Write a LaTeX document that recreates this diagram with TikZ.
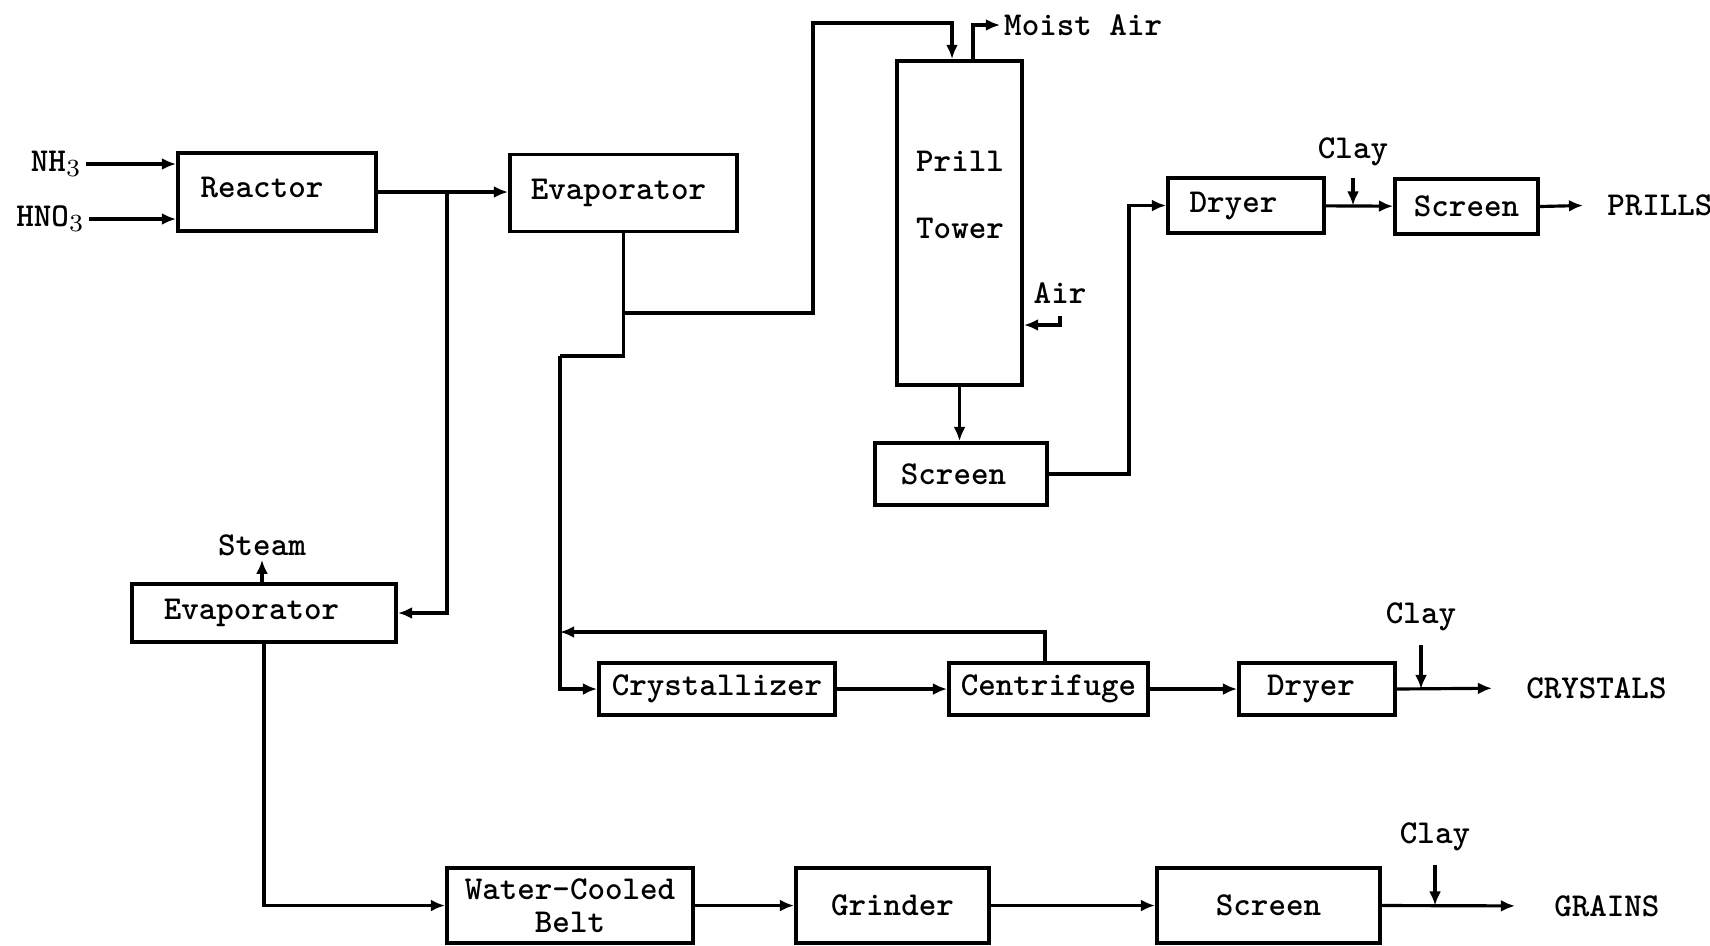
\documentclass[tikz,border=0pt]{standalone}
\usepackage{tikz}
\usetikzlibrary{arrows.meta,positioning,calc}

\begin{document}
\begin{tikzpicture}[x=0.01cm,y=-0.01cm,
  unit/.style 2 args={draw,line width=1.1pt,minimum width=#1cm,minimum height=#2cm,
                      inner sep=0pt,align=center,font=\fontsize{9.5}{11}\selectfont\ttfamily\bfseries},
  lbl/.style={inner sep=1pt,font=\fontsize{9.5}{11}\selectfont\ttfamily\bfseries},
  pipe/.style={line width=0.9pt},
  arrow/.style={pipe,-{Latex[length=4pt,width=3.4pt]}}
]
\useasboundingbox (0,0) rectangle (1710,945);
% prilling line
\node[unit={1.98}{0.78}] (reactor) at (277,192) {\raisebox{2.5pt}{Reactor}\hspace*{0.3cm}};
\node[unit={2.27}{0.77}] (evapA) at (623.5,193) {Evaporator\hspace*{0.1cm}};
\node[unit={1.25}{3.24}] (tower) at (959.5,223) {};
\node[lbl,align=center] (towertxt) at (960,195) {Prill\\[8pt]Tower};
\node[unit={1.72}{0.62}] (screenA) at (961,474) {Screen\hspace*{0.15cm}};
\node[unit={1.56}{0.55}] (dryerA) at (1246,205.5) {Dryer\hspace*{0.25cm}};
\node[unit={1.43}{0.55}] (screenB) at (1466.5,206.5) {Screen};
% crystal and grain lines
\node[unit={2.64}{0.58}] (evapB) at (264,613) {Evaporator\hspace*{0.25cm}};
\node[unit={2.36}{0.52}] (cryst) at (717,689) {Crystallizer};
\node[unit={1.99}{0.52}] (centri) at (1048.5,689) {Centrifuge};
\node[unit={1.56}{0.52}] (dryerB) at (1317,689) {Dryer\hspace*{0.12cm}};
\node[unit={2.46}{0.75}] (belt) at (570,905.5) {Water-Cooled\\[-1.5pt]Belt};
\node[unit={1.93}{0.75}] (grinder) at (892.5,905.5) {Grinder};
\node[unit={2.23}{0.75}] (screenC) at (1268.5,905.5) {Screen};
% stream labels
\node[lbl,anchor=east] (nh3) at (86,164) {NH$_3$};
\node[lbl,anchor=east] (hno3) at (89,219) {HNO$_3$};
\node[lbl] (steam) at (262,545) {Steam};
\node[lbl,anchor=west] (moist) at (1000,25) {Moist Air};
\node[lbl] (air) at (1060,293) {Air};
\node[lbl] (clayA) at (1353,152) {Clay};
\node[lbl,anchor=west] (prills) at (1603,205) {PRILLS};
\node[lbl] (clayB) at (1421,617) {Clay};
\node[lbl,anchor=west] (crystals) at (1522,688) {CRYSTALS};
\node[lbl] (clayC) at (1435,837) {Clay};
\node[lbl,anchor=west] (grains) at (1550,906) {GRAINS};
\coordinate (split) at (447,192);
\coordinate (drop) at (560,356);

\draw[arrow] (nh3.east) -- (reactor.west |- nh3.east);
\draw[arrow] (hno3.east) -- (reactor.west |- hno3.east);
\draw[arrow] (reactor.east) -- (evapA.west |- reactor.east);
\draw[arrow] (split) |- (evapB.east);
\draw[arrow] (evapB.north -| steam.south) -- (steam.south);
\draw[arrow] (evapB.south) |- (belt.west);
\draw[arrow] (belt) -- (grinder);
\draw[arrow] (grinder) -- (screenC);
\draw[arrow,shorten >=0.35cm] (screenC.east) -- (grains.west);
\draw[arrow,shorten <=0.1cm] (clayC.south) -- (clayC.south |- screenC.east);
% to the prill tower
\draw[arrow] (evapA.south |- 0,313) -| (813,23) -| ([xshift=-0.075cm]tower.north);
\draw[arrow] ([xshift=0.135cm]tower.north) |- (moist.west);
\draw[arrow,shorten <=0.08cm] (air.south) |- (tower.east |- 0,325);
\draw[arrow] (tower.south) -- (tower.south |- screenA.north);
\draw[arrow] (screenA.east) -- ++(80,0) |- (dryerA.west);
\draw[arrow] (dryerA) -- (screenB);
\draw[arrow,shorten <=0.08cm] (clayA.south) -- (clayA.south |- dryerA.east);
\draw[arrow,shorten >=0.2cm] (screenB.east) -- (prills.west);
% to the crystallizer
\draw[pipe] (evapA.south) |- (drop);
\draw[arrow] (drop) |- (cryst.west);
\draw[arrow] (cryst) -- (centri);
\draw[arrow] ([xshift=-0.035cm]centri.north) |- (drop |- 0,632);
\draw[arrow] (centri) -- (dryerB);
\draw[arrow,shorten <=0.1cm] (clayB.south) -- (clayB.south |- dryerB.east);
\draw[arrow,shorten >=0.3cm] (dryerB.east) -- (crystals.west);
\end{tikzpicture}
\end{document}
